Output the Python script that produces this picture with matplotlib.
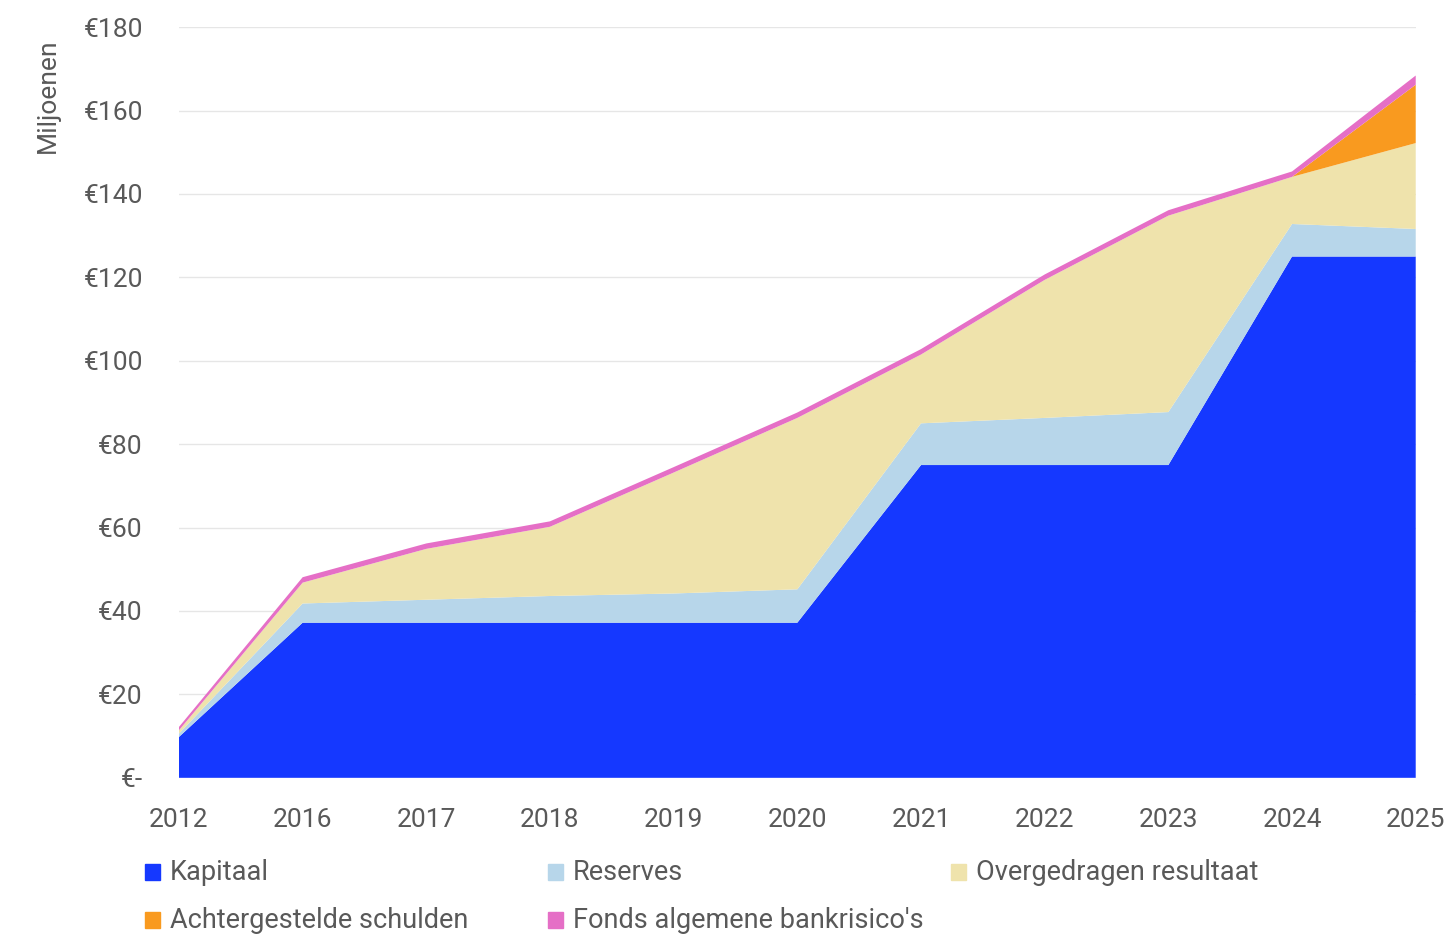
"""
Eigen vermogen opbouw, gestapeld vlakdiagram
"""
import numpy as np
import matplotlib.pyplot as plt
from matplotlib.patches import Rectangle

plt.rcParams['font.family'] = ['Roboto', 'DejaVu Sans']

jaren = ['2012', '2016', '2017', '2018', '2019', '2020', '2021', '2022', '2023', '2024', '2025']

# bedragen in miljoenen euro
kapitaal = [9.8, 37.2, 37.2, 37.2, 37.2, 37.2, 75.0, 75.0, 75.0, 125.0, 125.0]
reserves = [0.8, 4.6, 5.5, 6.4, 7.0, 8.0, 10.0, 11.3, 12.7, 7.8, 6.6]
overgedragen = [0.8, 5.0, 12.2, 16.6, 29.0, 41.1, 16.5, 33.1, 47.1, 11.3, 20.6]
achtergesteld = [0, 0, 0, 0, 0, 0, 0, 0, 0, 0, 14.0]
fonds = [0.8, 1.3, 1.3, 1.3, 1.3, 1.3, 1.3, 1.3, 1.3, 1.3, 2.2]

namen = ['Kapitaal', 'Reserves', 'Overgedragen resultaat',
         'Achtergestelde schulden', "Fonds algemene bankrisico's"]
kleuren = ['#1538FF', '#B7D6EA', '#EFE3AC', '#F99A1F', '#E56FC6']

yticks = np.arange(0, 181, 20)
ylabels = ['€-'] + ['€%d' % v for v in yticks[1:]]

tekst = '#595959'

fig = plt.figure(figsize=(14.55, 9.36), dpi=100)
ax = fig.add_axes([0.123, 0.169, 0.850, 0.802])

x = np.arange(len(jaren))
ax.stackplot(x, kapitaal, reserves, overgedragen, achtergesteld, fonds,
             colors=kleuren, linewidth=0)

ax.set_xlim(0, len(jaren) - 1)
ax.set_ylim(0, 180)
ax.set_xticks(x)
ax.set_xticklabels(jaren)
ax.set_yticks(yticks)
ax.set_yticklabels(ylabels)
ax.tick_params(axis='both', length=0, labelsize=19, labelcolor=tekst)
ax.tick_params(axis='y', pad=26)
ax.tick_params(axis='x', pad=22)
ax.grid(axis='y', color='#E6E6E6', linewidth=1)
ax.set_axisbelow(True)
for s in ax.spines.values():
    s.set_visible(False)

fig.text(48 / 1455, 1 - 96 / 936, 'Miljoenen', rotation=90, ha='center',
         va='center', fontsize=19, color=tekst)

# legenda in drie vaste kolommen
for i, (naam, kleur) in enumerate(zip(namen, kleuren)):
    kol = i % 3
    rij = i // 3
    x0 = (145 + kol * 403) / 1455
    y0 = 1 - (872 + rij * 48) / 936
    fig.patches.append(Rectangle((x0, y0 - 8 / 936), 15 / 1455, 16 / 936,
                                 transform=fig.transFigure, color=kleur))
    fig.text(x0 + 25 / 1455, y0, naam, ha='left', va='center',
             fontsize=19.5, color=tekst)

plt.savefig('out.png', dpi=100)
